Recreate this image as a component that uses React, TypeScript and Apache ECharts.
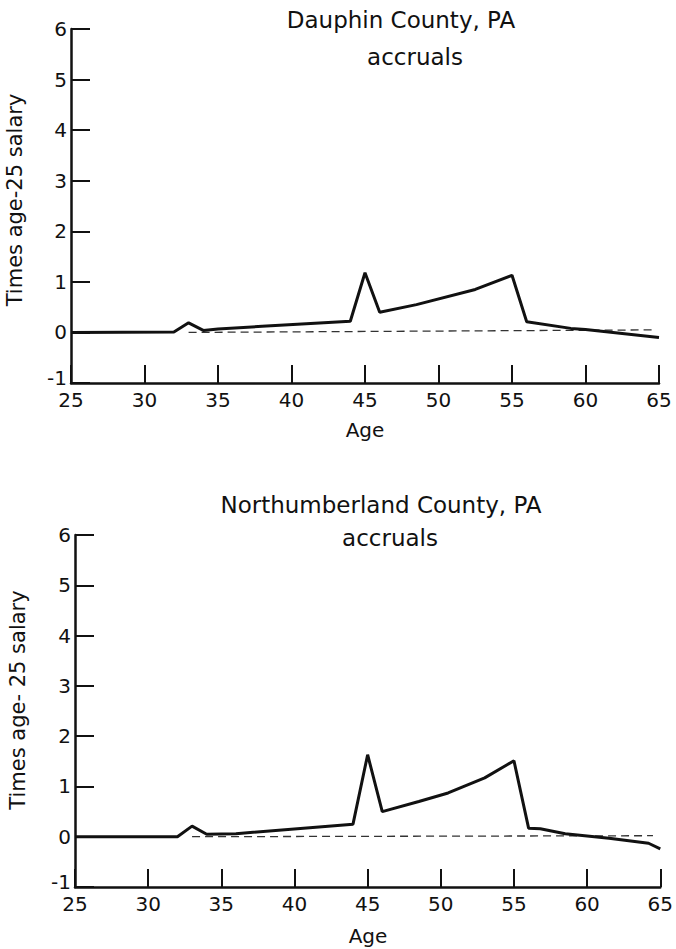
import React, { useEffect, useRef } from "react";
import * as echarts from "echarts";

// Dauphin County, PA accruals (multiple of age-25 salary)
const dauphinAges = [25, 32, 33, 34, 35, 38, 44, 45, 46, 48.5, 52.5, 55, 56, 59, 60, 65];
const dauphinValues = [0, 0.01, 0.19, 0.04, 0.07, 0.12, 0.22, 1.18, 0.4, 0.55, 0.85, 1.13, 0.21, 0.08, 0.06, -0.1];
const dauphinRefAges = [33, 64.5];
const dauphinRefValues = [0, 0.05];

// Northumberland County, PA accruals
const northAges = [25, 32, 33, 34, 36, 44, 45, 46, 48.5, 50.5, 53, 55, 56, 56.8, 58.5, 61.5, 64.2, 65];
const northValues = [0, 0, 0.21, 0.05, 0.06, 0.25, 1.63, 0.5, 0.7, 0.87, 1.17, 1.51, 0.17, 0.16, 0.06, -0.03, -0.13, -0.24];
const northRefAges = [33, 64.5];
const northRefValues = [0, 0.02];

const xTicks = { min: 25, max: 65, interval: 5 };
const yTicks = { min: -1, max: 6, interval: 1 };

const titles = ["Dauphin County, PA", "Northumberland County, PA"];
const subtitle = "accruals";
const yName = "Times age-25 salary";
const yNameBottom = "Times age- 25 salary";
const xName = "Age";

const FONT = "DejaVu Sans";
const INK = "#111";

const pairs = (xs: number[], ys: number[]) => xs.map((x, i) => [x, ys[i]]);

export default function App() {
  const ref = useRef<HTMLDivElement>(null);

  useEffect(() => {
    if (!ref.current) return;
    const chart = echarts.init(ref.current, undefined, { renderer: "svg" });

    const xAxisBase = (gridIndex: number) => ({
      type: "value" as const,
      gridIndex,
      ...xTicks,
      splitLine: { show: false },
      axisLine: { show: true, onZero: false, lineStyle: { color: INK, width: 2.5 } },
      axisTick: { show: true, inside: true, length: 18, lineStyle: { color: INK, width: 2 } },
      axisLabel: { color: INK, fontFamily: FONT, fontSize: 20, margin: 9, lineHeight: 16 },
    });
    const yAxisBase = (gridIndex: number) => ({
      type: "value" as const,
      gridIndex,
      ...yTicks,
      splitLine: { show: false },
      axisLine: { show: true, lineStyle: { color: INK, width: 2.5 } },
      axisTick: { show: true, inside: true, length: 19, lineStyle: { color: INK, width: 2 } },
      axisLabel: {
        color: INK,
        fontFamily: FONT,
        fontSize: 20,
        margin: 4,
        // the bottom label sits a little higher so it clears the first age label
        formatter: (v: number) => (v === -1 ? `{low|${v}}` : `${v}`),
        rich: { low: { fontFamily: FONT, fontSize: 20, color: INK, lineHeight: 12, padding: [0, 0, 10, 0] } },
      },
    });

    const solid = (idx: number, data: number[][]) => ({
      type: "line" as const,
      xAxisIndex: idx,
      yAxisIndex: idx,
      data,
      symbol: "none",
      lineStyle: { color: INK, width: 3 },
      z: 3,
    });
    const dashed = (idx: number, data: number[][]) => ({
      type: "line" as const,
      xAxisIndex: idx,
      yAxisIndex: idx,
      data,
      symbol: "none",
      lineStyle: { color: "#333", width: 1.3, type: [8, 5] },
      z: 2,
    });

    const text = (t: string, x: number, y: number, size: number, rotation = 0) => ({
      type: "text" as const,
      x,
      y,
      rotation,
      style: {
        text: t,
        fill: INK,
        font: `${size}px "${FONT}"`,
        textAlign: "center",
        textVerticalAlign: "middle",
      },
    });

    chart.setOption({
      animation: false,
      backgroundColor: "#fff",
      grid: [
        { left: 71, right: 17, top: 29, height: 354 },
        { left: 75, right: 14, top: 535, height: 352 },
      ],
      xAxis: [xAxisBase(0), xAxisBase(1)],
      yAxis: [yAxisBase(0), yAxisBase(1)],
      series: [
        solid(0, pairs(dauphinAges, dauphinValues)),
        dashed(0, pairs(dauphinRefAges, dauphinRefValues)),
        solid(1, pairs(northAges, northValues)),
        dashed(1, pairs(northRefAges, northRefValues)),
      ],
      graphic: [
        text(titles[0], 401, 20, 23),
        text(subtitle, 415, 57, 23),
        text(titles[1], 381, 505, 23),
        text(subtitle, 390, 538, 23),
        text(yName, 15, 200, 21, Math.PI / 2),
        text(yNameBottom, 18, 700, 21, Math.PI / 2),
        text(xName, 365, 430, 20),
        text(xName, 368, 936, 20),
      ],
    });

    return () => chart.dispose();
  }, []);

  return (
    <div
      ref={ref}
      style={{ position: "absolute", left: 0, top: 0, width: 676, height: 949, background: "#fff" }}
    />
  );
}
